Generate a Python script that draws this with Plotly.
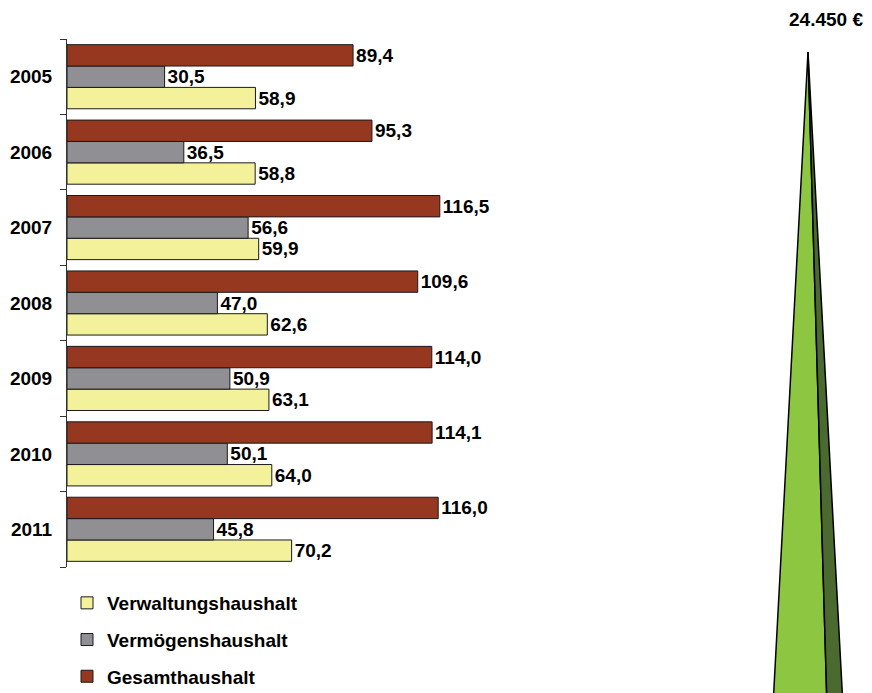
import plotly.graph_objects as go

# ---- data ----
years = ["2005", "2006", "2007", "2008", "2009", "2010", "2011"]
verwaltung = [58.9, 58.8, 59.9, 62.6, 63.1, 64.0, 70.2]
vermoegen = [30.5, 36.5, 56.6, 47.0, 50.9, 50.1, 45.8]
gesamt = [89.4, 95.3, 116.5, 109.6, 114.0, 114.1, 116.0]
series_names = ["Verwaltungshaushalt", "Vermögenshaushalt", "Gesamthaushalt"]
series_colors = ["#f4f19b", "#8f8f94", "#963820"]
total_label = "24.450 €"

# the page body has an 8px margin; compensate so the picture lines up.
# The figure is made a little taller than the window so the legend fits
# inside the paper (the extra strip lies below the visible area).
OFF = 8
W, H = 872 - OFF, 693 - OFF + 25
FONT = "Liberation Sans, Arial, sans-serif"


def px(x):
    return (x - OFF) / W


def py(y):
    return 1 - (y - OFF) / H


def de(v):
    return f"{v:.1f}".replace(".", ",")


fig = go.Figure()
for name, vals, col in zip(series_names, [verwaltung, vermoegen, gesamt], series_colors):
    fig.add_trace(go.Bar(
        y=years, x=vals, name=name, orientation="h",
        marker=dict(color=col, line=dict(color="#1a1a1a", width=1)),
        text=[de(v) for v in vals], textposition="outside",
        textfont=dict(family=FONT, size=19, color="black", weight="bold"),
        constraintext="none", cliponaxis=False,
        legendgroup=name, hoverinfo="x+name",
    ))

# decorative green spike (right side); base runs past the window bottom
apex = (808, 52)
base_y = 706
left_face = [apex, (773, base_y), (827, base_y)]
right_face = [apex, (827, base_y), (843, base_y)]


def path(pts):
    return "M " + " L ".join(f"{px(x)},{py(y)}" for x, y in pts) + " Z"


shapes = [
    dict(type="path", xref="paper", yref="paper", path=path(left_face),
         fillcolor="#8dc641", line=dict(color="black", width=1.5), layer="above"),
    dict(type="path", xref="paper", yref="paper", path=path(right_face),
         fillcolor="#4b6a2f", line=dict(color="black", width=1.5), layer="above"),
]

fig.update_layout(
    width=W, height=H,
    margin=dict(l=0, r=0, t=0, b=0),
    paper_bgcolor="white", plot_bgcolor="white",
    barmode="group", bargap=0.15, bargroupgap=0,
    font=dict(family=FONT, size=19, color="black"),
    xaxis=dict(domain=[px(67), px(67 + 3.2 * 150)], range=[0, 150],
               visible=False, fixedrange=True),
    yaxis=dict(domain=[py(567), py(39)], type="category",
               categoryorder="array", categoryarray=years[::-1],
               showline=True, linecolor="#333333", linewidth=1,
               ticks="outside", tickson="boundaries", ticklen=6,
               tickcolor="#333333", showgrid=False, zeroline=False,
               ticklabelstandoff=10,
               tickfont=dict(family=FONT, size=19, color="black", weight="bold")),
    showlegend=True,
    legend=dict(x=px(67), y=py(584), xanchor="left", yanchor="top",
                traceorder="grouped", tracegroupgap=9, itemwidth=30,
                font=dict(family=FONT, size=19, color="black", weight="bold"),
                bgcolor="rgba(0,0,0,0)"),
    shapes=shapes,
    annotations=[dict(text=total_label, xref="paper", yref="paper",
                      x=px(865), y=py(20), xanchor="right", yanchor="middle",
                      showarrow=False,
                      font=dict(family=FONT, size=19, color="black", weight="bold"))],
)

fig.write_html("out.html")
